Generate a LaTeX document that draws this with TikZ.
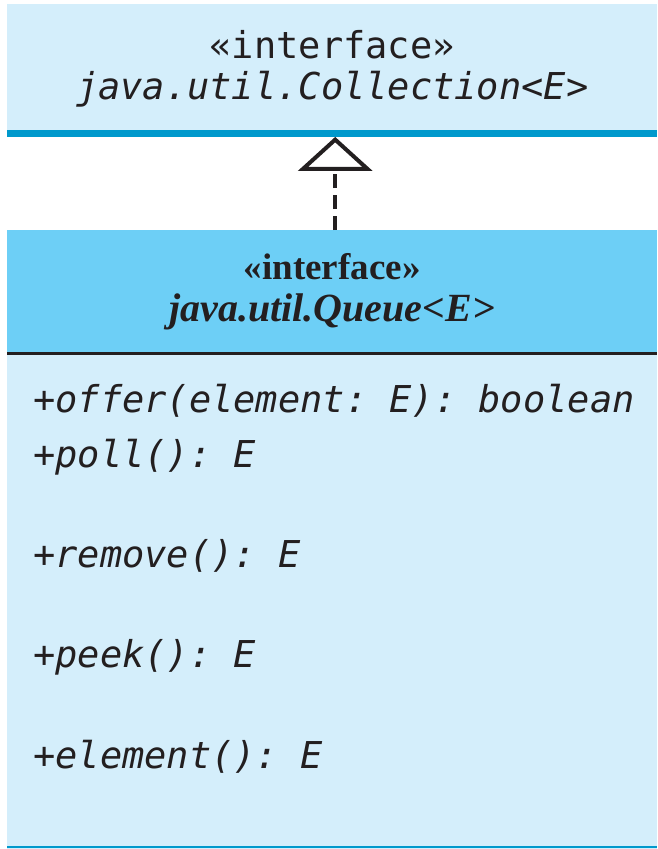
\documentclass[tikz,border=0pt]{standalone}
\usepackage{fontspec}
\setmainfont{Liberation Serif}
\setmonofont{DejaVu Sans Mono}
\usetikzlibrary{positioning,arrows.meta}

\definecolor{collfill}{HTML}{D4EEFB}
\definecolor{queuehead}{HTML}{6DCFF6}
\definecolor{edgeblue}{HTML}{0099CC}
\definecolor{inkgray}{HTML}{231F20}

\tikzset{
  umlbox/.style = {anchor=north west, minimum width=650pt, inner sep=0pt,
    text=inkgray, align=center},
  collbox/.style = {umlbox, fill=collfill, minimum height=129pt,
    font=\ttfamily\fontsize{37}{41}\selectfont},% interface du dessus
  headbox/.style = {umlbox, fill=queuehead, minimum height=123.5pt,
    font=\bfseries\fontsize{37}{42}\selectfont},% entete de Queue
  bodybox/.style = {umlbox, fill=collfill, minimum height=494.5pt},% methodes
  method/.style = {anchor=base west, inner sep=0pt, text=inkgray,
    font=\ttfamily\itshape\fontsize{37}{41}\selectfont},
  realize/.style = {line width=4pt, dash pattern=on 14pt off 7pt,
    -{Triangle[open, length=34pt, width=74pt]}}
}

\begin{document}
\begin{tikzpicture}[x=1pt, y=-1pt]
  \useasboundingbox (0,0) rectangle (657,849);
  \node [collbox] (coll) at (7,4) {«interface»\\ \textit{java.util.Collection<E>}};
  \draw [edgeblue, line width=7pt] (coll.south west) -- (coll.south east);
  \node [headbox] (queue) at (7,230) {«interface»\\ \textit{\fontsize{40}{42}\selectfont java.util.Queue<E>}};
  \node [bodybox, below=0pt of queue] (body) {};
  \draw [inkgray, line width=3pt] (queue.south west) -- (queue.south east);
  \draw [edgeblue, line width=2pt] ([yshift=1.5pt]body.south west) -- ([yshift=1.5pt]body.south east);
  % les methodes
  \node [method] (offer) at (33,412) {+offer(element: E): boolean};
  \node [method] (poll) at (33,467) {+poll(): E};
  \node [method] (remove) at (33,567) {+remove(): E};
  \node [method] (peek) at (33,667) {+peek(): E};
  \node [method] (element) at (33,768) {+element(): E};
  % realisation
  \draw [realize, inkgray] ([xshift=3pt]queue.north) -- ([xshift=3pt, yshift=-3.5pt]coll.south);
\end{tikzpicture}
\end{document}
